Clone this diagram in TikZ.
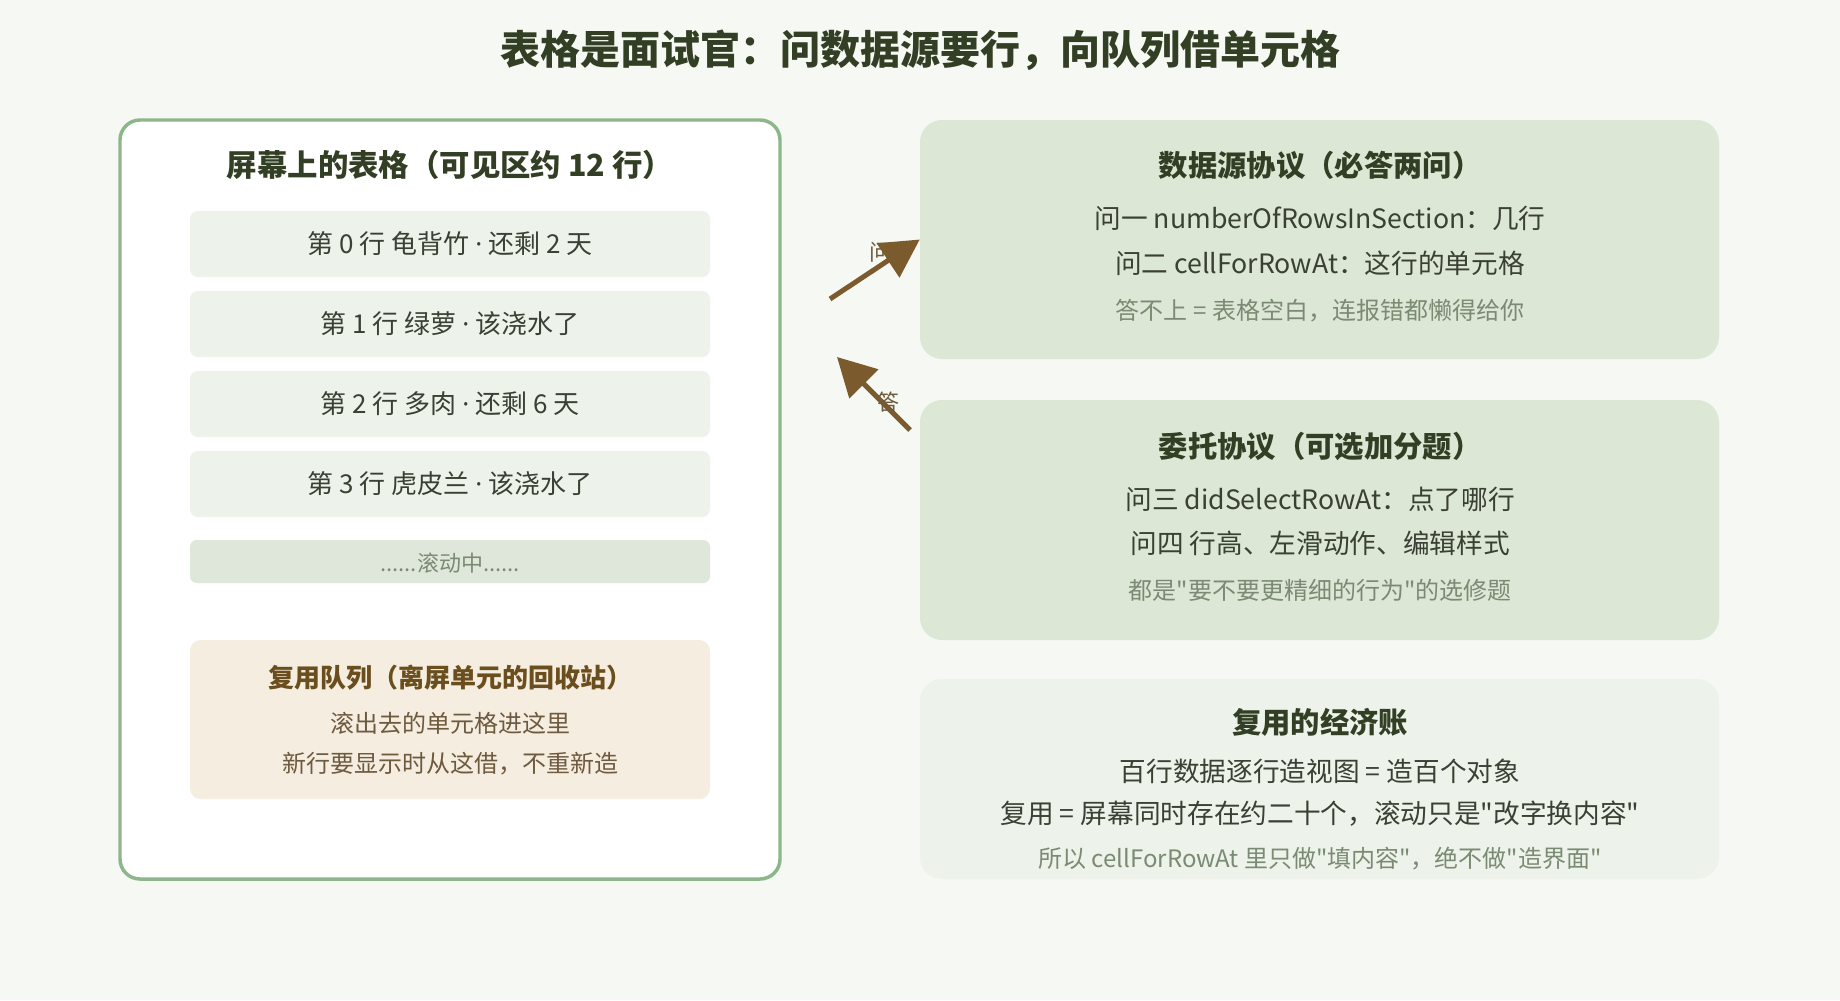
\documentclass[tikz,border=0pt]{standalone}
\usepackage{fontspec}
\setmainfont{Noto Sans CJK SC}[Ligatures=TeXOff]
\newfontfamily\dotfont{Noto Sans}
\usetikzlibrary{arrows.meta}
\definecolor{pagebg}{HTML}{F6F8F3}
\definecolor{panelline}{HTML}{8DB68A}
\definecolor{rowfill}{HTML}{EDF2EA}
\definecolor{scrollfill}{HTML}{DFE7DA}
\definecolor{queuefill}{HTML}{F4EDE0}
\definecolor{protofill}{HTML}{DCE7D5}
\definecolor{headink}{HTML}{333F24}
\definecolor{bodyink}{HTML}{3B4034}
\definecolor{noteink}{HTML}{7B8A72}
\definecolor{queuehead}{HTML}{6B4E1E}
\definecolor{queueink}{HTML}{6E5A3E}
\definecolor{arrowink}{HTML}{7B5A2E}
\tikzset{
  headtext/.style={text=headink,font=\fontsize{22pt}{26pt}\selectfont\bfseries},
  bodytext/.style={text=bodyink,font=\fontsize{20pt}{24pt}\selectfont},
  rowtext/.style={text=bodyink,font=\fontsize{19.5pt}{24pt}\selectfont},
  notetext/.style={text=noteink,font=\fontsize{18pt}{22pt}\selectfont},
  rowbox/.style={rectangle,rounded corners=6pt,fill=rowfill,minimum width=390pt,minimum height=49.5pt,inner sep=0pt},
  protobox/.style={rectangle,rounded corners=16.5pt,minimum width=599.25pt,inner sep=0pt},
  flow/.style={arrowink,line width=3.75pt,-{Triangle[length=28.5pt,width=30pt]}}
}
\newcommand{\rowdot}{{\dotfont ·}}
\newcommand{\tikzRowNode}[3]{
  \node[rowbox] (#1) at (450,#2) {};
  \node[rowtext] (#1t) at (450,#2) {#3};
}
\begin{document}
\begin{tikzpicture}[x=0.75pt, y=-0.75pt]
  \useasboundingbox (0,0) rectangle (1840,1000);
  \fill[pagebg] (0,0) rectangle (1840,1000);

  \node [text=headink,font=\fontsize{30pt}{36pt}\selectfont\bfseries] (title) at (920,50) {表格是面试官：问数据源要行，向队列借单元格};

  \node [rectangle,rounded corners=15pt,draw=panelline,line width=2.6pt,fill=white,minimum width=495pt,minimum height=569.25pt] (screen) at (450,499.5) {};
  \node [headtext,font=\fontsize{22.8pt}{27pt}\selectfont\bfseries] (screenhd) at (450,165) {屏幕上的表格（可见区约 12 行）};

  \tikzRowNode{row0}{244}{第 0 行 龟背竹 \rowdot{} 还剩 2 天}
  \tikzRowNode{row1}{324}{第 1 行 绿萝 \rowdot{} 该浇水了}
  \tikzRowNode{row2}{404}{第 2 行 多肉 \rowdot{} 还剩 6 天}
  \tikzRowNode{row3}{484}{第 3 行 虎皮兰 \rowdot{} 该浇水了}

  \node [rectangle,rounded corners=5pt,fill=scrollfill,minimum width=390pt,minimum height=32.25pt,inner sep=0pt] (scroll) at (450,561.5) {};
  \node [text=noteink,font=\fontsize{16.5pt}{20pt}\selectfont] (scrollt) at (450,563) {......滚动中......};

  \node [rectangle,rounded corners=8pt,fill=queuefill,minimum width=390pt,minimum height=119.25pt,inner sep=0pt] (queue) at (450,719.5) {};
  \node [text=queuehead,font=\fontsize{19.5pt}{24pt}\selectfont\bfseries] (queuehd) at (450,678) {复用队列（离屏单元的回收站）};
  \node [text=queueink,font=\fontsize{18pt}{22pt}\selectfont] (queue1) at (450,723) {滚出去的单元格进这里};
  \node [text=queueink,font=\fontsize{18pt}{22pt}\selectfont] (queue2) at (450,764) {新行要显示时从这借，不重新造};

  \node [protobox,fill=protofill,minimum height=179.25pt] (dsrc) at (1319.5,239.5) {};
  \node [headtext] (dsrchd) at (1320,165) {数据源协议（必答两问）};
  \node [bodytext] (dsrc1) at (1320,218) {问一 numberOfRowsInSection：几行};
  \node [bodytext] (dsrc2) at (1320,263) {问二 cellForRowAt：这行的单元格};
  \node [notetext] (dsrc3) at (1320,311) {答不上 = 表格空白，连报错都懒得给你};

  \node [protobox,fill=protofill,minimum height=180pt] (dlg) at (1319.5,520) {};
  \node [headtext] (dlghd) at (1320,446) {委托协议（可选加分题）};
  \node [bodytext] (dlg1) at (1320,499) {问三 didSelectRowAt：点了哪行};
  \node [bodytext] (dlg2) at (1320,543) {问四 行高、左滑动作、编辑样式};
  \node [notetext] (dlg3) at (1320,590) {都是"要不要更精细的行为"的选修题};

  \node [protobox,fill=rowfill,minimum height=150pt] (cost) at (1319.5,779) {};
  \node [headtext] (costhd) at (1320,722) {复用的经济账};
  \node [bodytext] (cost1) at (1320,771) {百行数据逐行造视图 = 造百个对象};
  \node [bodytext] (cost2) at (1320,814) {复用 = 屏幕同时存在约二十个，滚动只是"改字换内容"};
  \node [notetext] (cost3) at (1320,859) {所以 cellForRowAt 里只做"填内容"，绝不做"造界面"};

  \coordinate (askfrom) at (830,299);
  \coordinate (ansfrom) at (910,430);
  \coordinate (ansto) at (837,357);
  \node [text=queueink,font=\fontsize{16.5pt}{20pt}\selectfont] (asklbl) at (880,252) {问};
  \draw [flow] (askfrom) -- (dsrc.west);
  \draw [flow] (ansfrom) -- (ansto);
  \node [text=queueink,font=\fontsize{16.5pt}{20pt}\selectfont] (anslbl) at (888,402) {答};
\end{tikzpicture}
\end{document}
